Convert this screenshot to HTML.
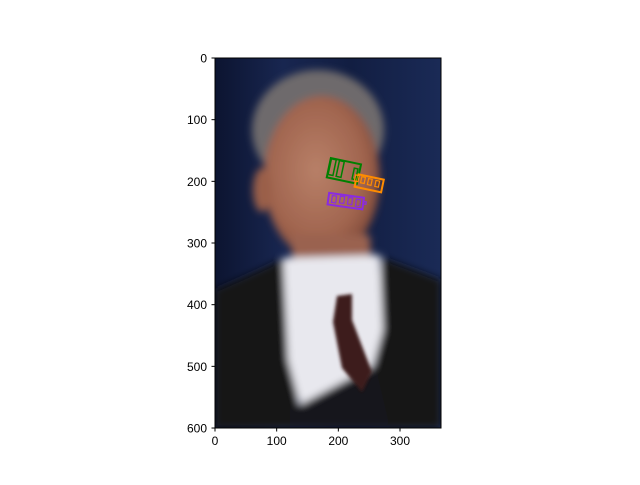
<!DOCTYPE html>
<html><head><meta charset="utf-8"><style>
body{margin:0;background:#fff;}
svg text{font-family:"Liberation Sans","DejaVu Sans",sans-serif;font-size:12px;fill:#000;}
</style></head><body>
<svg width="640" height="480" viewBox="0 0 640 480">
<defs>
<filter id="bl" x="-20%" y="-20%" width="140%" height="140%"><feGaussianBlur stdDeviation="4"/></filter>
<filter id="bl2"><feGaussianBlur stdDeviation="1.5"/></filter>
<clipPath id="clip"><rect x="215" y="58" width="226" height="370"/></clipPath>
<linearGradient id="bg" x1="0" x2="1"><stop offset="0" stop-color="#0c1430"/><stop offset="0.3" stop-color="#182650"/><stop offset="0.6" stop-color="#121e42"/><stop offset="1" stop-color="#1a2a56"/></linearGradient>
<radialGradient id="skin" cx="0.45" cy="0.45" r="0.6"><stop offset="0" stop-color="#b88068"/><stop offset="0.7" stop-color="#a0644e"/><stop offset="1" stop-color="#7a4636"/></radialGradient>
</defs>
<g clip-path="url(#clip)">
<rect x="215" y="58" width="226" height="370" fill="url(#bg)"/>
<g filter="url(#bl)">
<ellipse cx="318" cy="130" rx="66" ry="60" fill="#6e6a6c"/>
<ellipse cx="322" cy="178" rx="58" ry="82" fill="url(#skin)"/>
<ellipse cx="262" cy="190" rx="9" ry="22" fill="#9a5e48"/>
<path d="M290 235 L370 235 L372 275 L295 280 Z" fill="#9a6250"/>
<path d="M215 290 Q250 275 285 258 L300 428 L215 428 Z" fill="#121218"/>
<path d="M441 280 Q410 268 382 258 L370 428 L441 428 Z" fill="#121218"/>
<path d="M283 258 L380 255 L383 330 L372 370 L330 405 L300 405 L288 360 Z" fill="#e8e8ee"/>
<path d="M290 410 L375 365 L390 428 L290 428 Z" fill="#15151c"/>
</g>
<path d="M337 296 L352 294 L352 320 L372 372 L362 392 L342 368 L333 322 Z" fill="#3e1c1a" filter="url(#bl2)"/>
</g>
<g id="boxes"></g>
<rect x="215" y="58" width="226" height="370" fill="none" stroke="#000" stroke-width="1"/>
<g id="ticks"></g>
</svg>
<script>
const xTicks=[0,100,200,300];
const yTicks=[0,100,200,300,400,500,600];
const groupColors=['#008000','#ff8c00','#8a2be2'];
const outerBoxes=[[209,183,50,32,12],[250,203,44,21,12],[212,232,57,19,8]];
const innerGreen=[[190,177,8,26],[203,180,8,26],[227,188,6,18]];
const innerOrange=[[230,195,6,10],[240,198,6,10],[251,201,6,10],[263,204,6,10]];
const innerPurple=[[193,229,7,11],[206,230,7,11],[219,232,7,11],[232,235,7,11],[243,235,4,4]];
const NS='http://www.w3.org/2000/svg';
const sx=v=>215+v*0.6167, sy=v=>58+v*0.6167, s=v=>v*0.6167;
const gb=document.getElementById('boxes');
function box(b,color,ang,w,name){
  const r=document.createElementNS(NS,'rect');
  const cx=sx(b[0]),cy=sy(b[1]),bw=s(b[2]),bh=s(b[3]);
  r.setAttribute('x',cx-bw/2);r.setAttribute('y',cy-bh/2);
  r.setAttribute('width',bw);r.setAttribute('height',bh);
  r.setAttribute('fill','none');r.setAttribute('stroke',color);r.setAttribute('stroke-width',w);
  r.setAttribute('transform','rotate('+ang+' '+cx+' '+cy+')');
  
  
  gb.appendChild(r);
}
outerBoxes.forEach((b,i)=>box(b,groupColors[i],b[4],2,'outer-box'));
innerGreen.forEach(b=>box(b,groupColors[0],12,1.5,'inner-box'));
innerOrange.forEach(b=>box(b,groupColors[1],12,1.2,'inner-box'));
innerPurple.forEach(b=>box(b,groupColors[2],8,1.2,'inner-box'));
const gt=document.getElementById('ticks');
xTicks.forEach(t=>{
  const x=sx(t);
  const l=document.createElementNS(NS,'line');
  l.setAttribute('x1',x);l.setAttribute('x2',x);l.setAttribute('y1',428);l.setAttribute('y2',431.5);l.setAttribute('stroke','#000');
  
  
  gt.appendChild(l);
  const tx=document.createElementNS(NS,'text');
  tx.setAttribute('x',x);tx.setAttribute('y',445);tx.setAttribute('text-anchor','middle');tx.textContent=t;
  
  
  gt.appendChild(tx);
});
yTicks.forEach(t=>{
  const y=sy(t);
  const l=document.createElementNS(NS,'line');
  l.setAttribute('x1',211.5);l.setAttribute('x2',215);l.setAttribute('y1',y);l.setAttribute('y2',y);l.setAttribute('stroke','#000');
  
  
  gt.appendChild(l);
  const tx=document.createElementNS(NS,'text');
  tx.setAttribute('x',207);tx.setAttribute('y',y+4.5);tx.setAttribute('text-anchor','end');tx.textContent=t;
  
  
  gt.appendChild(tx);
});
</script>
</body></html>
